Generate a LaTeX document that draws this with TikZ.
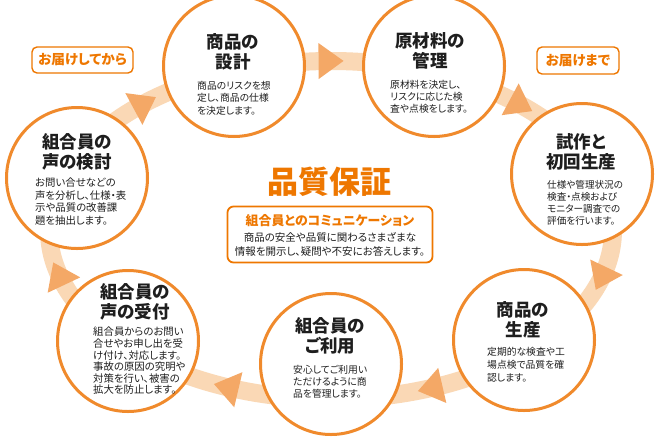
\documentclass[tikz,border=0pt]{standalone}
\usepackage{fontspec}
\setmainfont{Noto Sans CJK JP}[RawFeature=+palt]
\definecolor{ringor}{HTML}{F08A2C}
\definecolor{orangeT}{HTML}{EE7700}
\definecolor{bandc}{HTML}{FAD8B5}
\definecolor{arrowc}{HTML}{F4A866}
\definecolor{txt}{HTML}{1E1E1E}
\tikzset{
  circ/.style={circle, draw=ringor, line width=3pt, fill=white, minimum size=141pt, inner sep=0pt},
  ttl/.style={align=center, inner sep=0pt, text=txt, font=\fontsize{17.5}{20}\selectfont\bfseries},
  bdy/.style={align=left, inner sep=0pt, anchor=north west, text=txt},
  lbl/.style={draw=orangeT, line width=1.4pt, rounded corners=5pt, text=orangeT, inner sep=0pt,
              font=\fontsize{13.6}{15}\selectfont\bfseries},
  arrowhead/.style={fill=arrowc}
}
\begin{document}
\begin{tikzpicture}[x=1pt,y=-1pt]
\useasboundingbox (0,0) rectangle (660,437);
\clip (0,0) rectangle (660,437);
\fill[white] (0,0) rectangle (660,437);
% ring band
\draw[bandc, line width=18pt] (331,230) ellipse [x radius=282pt, y radius=169pt];
% arrowheads
\foreach \t in {90.5,48.2,-15.9,-68.9,248.7,195.8,131.9}{
  \pgfmathsetmacro\px{331+282*cos(\t)}
  \pgfmathsetmacro\py{230-169*sin(\t)}
  \pgfmathsetmacro\ddx{2.82*sin(\t)}
  \pgfmathsetmacro\ddy{1.69*cos(\t)}
  \pgfmathsetmacro\lenv{sqrt(\ddx*\ddx+\ddy*\ddy)}
  \pgfmathsetmacro\ux{\ddx/\lenv}
  \pgfmathsetmacro\uy{\ddy/\lenv}
  \fill[arrowhead] ({\px+15*\ux},{\py+15*\uy}) -- ({\px-10*\ux-18*\uy},{\py-10*\uy+18*\ux})
        -- ({\px-10*\ux+18*\uy},{\py-10*\uy-18*\ux}) -- cycle;
}
% circles
\node[circ] (c1) at (234,66) {};
\node[circ] (c2) at (434,66) {};
\node[circ] (c3) at (582,174) {};
\node[circ] (c4) at (524,340) {};
\node[circ] (c5) at (331,364) {};
\node[circ] (c6) at (128,341) {};
\node[circ] (c7) at (77,178) {};
% titles
\node[ttl] (t1) at (233,52) {商品の\\設計};
\node[ttl] (t2) at (430,51) {原材料の\\管理};
\node[ttl] (t3) at (581,152) {試作と\\初回生産};
\node[ttl] (t4) at (523,320) {商品の\\生産};
\node[ttl] (t5) at (330,336) {組合員の\\ご利用};
\node[ttl] (t6) at (135,302) {組合員の\\声の受付};
\node[ttl] (t7) at (77,152) {組合員の\\声の検討};
% bodies
\node[bdy, font=\fontsize{9.8}{12.5}\selectfont] (b1) at (197,81) {商品のリスクを想\\定し、商品の仕様\\を決定します。};
\node[bdy, font=\fontsize{9.8}{11.8}\selectfont] (b2) at (390,80) {原材料を決定し、\\リスクに応じた検\\査や点検をします。};
\node[bdy, font=\fontsize{9.6}{12}\selectfont] (b3) at (547,180.5) {仕様や管理状況の\\検査・点検および\\モニター調査での\\評価を行います。};
\node[bdy, font=\fontsize{9.8}{13}\selectfont] (b4) at (487,347) {定期的な検査や工\\場点検で品質を確\\認します。};
\node[bdy, font=\fontsize{9.8}{12}\selectfont] (b5) at (293,365) {安心してご利用い\\ただけるように商\\品を管理します。};
\node[bdy, font=\fontsize{10.4}{11.6}\selectfont] (b6) at (93,327) {組合員からのお問い\\合せやお申し出を受\\け付け、対応します。\\事故の原因の究明や\\対策を行い、被害の\\拡大を防止します。};
\node[bdy, font=\fontsize{10.4}{12.5}\selectfont] (b7) at (35,178) {お問い合せなどの\\声を分析し、仕様・表\\示や品質の改善課\\題を抽出します。};
% center
\node[text=orangeT, inner sep=0pt, font=\fontsize{31}{31}\selectfont\bfseries] (hq) at (329,182) {品質保証};
\node[draw=orangeT, line width=1.8pt, rounded corners=6pt, fill=white, minimum width=205pt, minimum height=56pt, inner sep=0pt] (box) at (330,234.5) {};
\node[text=orangeT, inner sep=0pt, font=\fontsize{12.9}{13}\selectfont\bfseries] (bt) at (330,221) {組合員とのコミュニケーション};
\node[text=txt, inner sep=0pt, align=center, font=\fontsize{10.5}{14}\selectfont] (bb) at (330,244) {商品の安全や品質に関わるさまざまな\\情報を開示し、疑問や不安にお答えします。};
% labels
\node[lbl, minimum width=101pt, minimum height=26pt] (l1) at (82.5,60) {お届けしてから};
\node[lbl, minimum width=82pt, minimum height=27pt] (l2) at (578,60.5) {お届けまで};
\end{tikzpicture}
\end{document}
